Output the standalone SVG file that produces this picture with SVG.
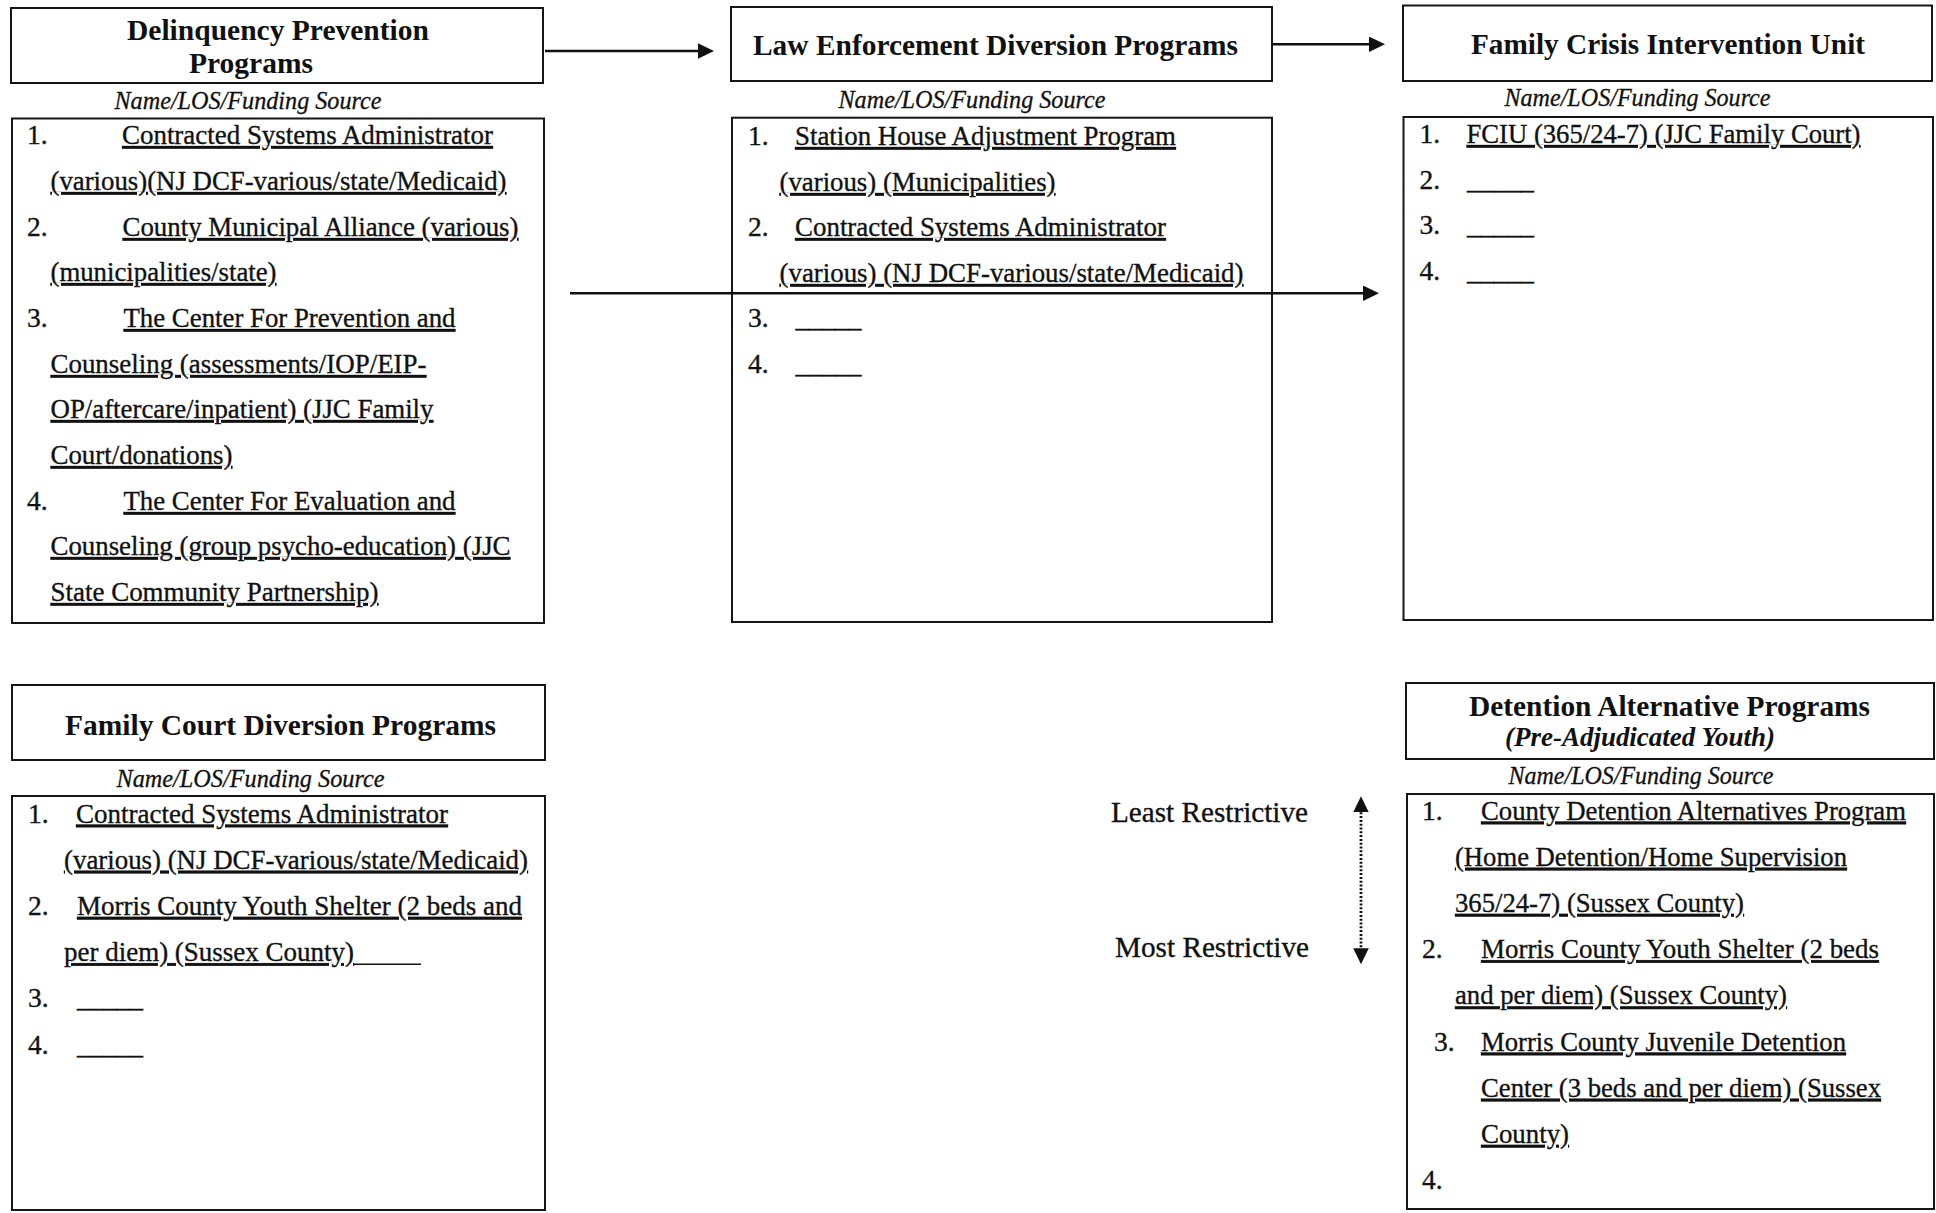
<svg xmlns="http://www.w3.org/2000/svg" width="1936" height="1213" viewBox="0 0 1936 1213">
<style>
  .box { fill: none; stroke: #161616; stroke-width: 2; }
  .hd { font-family: "Liberation Serif", "Times New Roman", serif; font-weight: bold; font-size: 30px; fill: #111; }
  .hdi { font-family: "Liberation Serif", "Times New Roman", serif; font-weight: bold; font-style: italic; font-size: 27px; fill: #111; }
  .sub { font-family: "Liberation Serif", "Times New Roman", serif; font-style: italic; font-size: 24.5px; fill: #111; stroke: #111; stroke-width: 0.3; }
  .it { font-family: "Liberation Serif", "Times New Roman", serif; font-size: 27.5px; fill: #111; stroke: #111; stroke-width: 0.35; text-decoration: underline; }
  .num { font-family: "Liberation Serif", "Times New Roman", serif; font-size: 27.5px; fill: #111; stroke: #111; stroke-width: 0.35; }
  .lbl { font-family: "Liberation Serif", "Times New Roman", serif; font-size: 29px; fill: #111; stroke: #111; stroke-width: 0.35; }
  .conn { stroke: #111; stroke-width: 2.4; fill: none; }
  .dot { stroke: #111; stroke-width: 2.8; fill: none; stroke-dasharray: 2 1.8; }
  .ul { stroke: #111; stroke-width: 1.6; }
</style>
<defs>
  <marker id="ah" markerUnits="userSpaceOnUse" markerWidth="17" markerHeight="17" refX="0" refY="7.8" orient="auto-start-reverse">
    <path d="M0,0 L16,7.8 L0,15.6 Z" fill="#111"/>
  </marker>
</defs>

<g id="delinquency-prevention">
  <rect class="box" x="11" y="8" width="532" height="75"/>
  <text class="hd" x="127" y="40" textLength="302" lengthAdjust="spacingAndGlyphs">Delinquency Prevention</text>
  <text class="hd" x="189" y="73" textLength="124" lengthAdjust="spacingAndGlyphs">Programs</text>
  <text class="sub" x="114.5" y="109" textLength="267" lengthAdjust="spacingAndGlyphs">Name/LOS/Funding Source</text>
  <rect class="box" x="12" y="118.5" width="532" height="504.5"/>
  <text class="num" x="27" y="144">1.</text>
  <text class="it" x="122" y="144" textLength="371" lengthAdjust="spacingAndGlyphs">Contracted Systems Administrator</text>
  <text class="it" x="50.5" y="190" textLength="456" lengthAdjust="spacingAndGlyphs">(various)(NJ DCF-various/state/Medicaid)</text>
  <text class="num" x="27" y="236">2.</text>
  <text class="it" x="122.5" y="236" textLength="396" lengthAdjust="spacingAndGlyphs">County Municipal Alliance (various)</text>
  <text class="it" x="50.5" y="281" textLength="226" lengthAdjust="spacingAndGlyphs">(municipalities/state)</text>
  <text class="num" x="27" y="327">3.</text>
  <text class="it" x="123.5" y="327" textLength="332" lengthAdjust="spacingAndGlyphs">The Center For Prevention and</text>
  <text class="it" x="50.5" y="373" textLength="376" lengthAdjust="spacingAndGlyphs">Counseling (assessments/IOP/EIP-</text>
  <text class="it" x="50.5" y="418" textLength="383" lengthAdjust="spacingAndGlyphs">OP/aftercare/inpatient) (JJC Family</text>
  <text class="it" x="50.5" y="464" textLength="182" lengthAdjust="spacingAndGlyphs">Court/donations)</text>
  <text class="num" x="27" y="510">4.</text>
  <text class="it" x="123.5" y="510" textLength="332" lengthAdjust="spacingAndGlyphs">The Center For Evaluation and</text>
  <text class="it" x="50.5" y="555" textLength="460" lengthAdjust="spacingAndGlyphs">Counseling (group psycho-education) (JJC</text>
  <text class="it" x="50.5" y="601" textLength="328" lengthAdjust="spacingAndGlyphs">State Community Partnership)</text>
</g>

<g id="law-enforcement-diversion">
  <rect class="box" x="731" y="7" width="541" height="74"/>
  <text class="hd" x="753" y="55" textLength="485" lengthAdjust="spacingAndGlyphs">Law Enforcement Diversion Programs</text>
  <text class="sub" x="838.5" y="108" textLength="267" lengthAdjust="spacingAndGlyphs">Name/LOS/Funding Source</text>
  <rect class="box" x="732" y="117.7" width="540" height="504.3"/>
  <text class="num" x="748" y="145">1.</text>
  <text class="it" x="795" y="145" textLength="381" lengthAdjust="spacingAndGlyphs">Station House Adjustment Program</text>
  <text class="it" x="779.5" y="191" textLength="276" lengthAdjust="spacingAndGlyphs">(various) (Municipalities)</text>
  <text class="num" x="748" y="236">2.</text>
  <text class="it" x="795" y="236" textLength="371" lengthAdjust="spacingAndGlyphs">Contracted Systems Administrator</text>
  <text class="it" x="779.5" y="282" textLength="464" lengthAdjust="spacingAndGlyphs">(various) (NJ DCF-various/state/Medicaid)</text>
  <text class="num" x="748" y="327">3.</text>
  <text class="num" x="795.5" y="327" textLength="66" lengthAdjust="spacingAndGlyphs">_____</text>
  <text class="num" x="748" y="373">4.</text>
  <text class="num" x="795.5" y="373" textLength="66" lengthAdjust="spacingAndGlyphs">_____</text>
</g>

<g id="family-crisis-intervention">
  <rect class="box" x="1403" y="5.5" width="529" height="75.5"/>
  <text class="hd" x="1471" y="53.5" textLength="394" lengthAdjust="spacingAndGlyphs">Family Crisis Intervention Unit</text>
  <text class="sub" x="1504.5" y="106" textLength="266" lengthAdjust="spacingAndGlyphs">Name/LOS/Funding Source</text>
  <rect class="box" x="1403.5" y="117" width="529.5" height="503"/>
  <text class="num" x="1419.5" y="143">1.</text>
  <text class="it" x="1466.5" y="143" textLength="394" lengthAdjust="spacingAndGlyphs">FCIU (365/24-7) (JJC Family Court)</text>
  <text class="num" x="1419.5" y="188.5">2.</text>
  <text class="num" x="1467" y="188.5" textLength="67" lengthAdjust="spacingAndGlyphs">_____</text>
  <text class="num" x="1419.5" y="234">3.</text>
  <text class="num" x="1467" y="234" textLength="67" lengthAdjust="spacingAndGlyphs">_____</text>
  <text class="num" x="1419.5" y="279.5">4.</text>
  <text class="num" x="1467" y="279.5" textLength="67" lengthAdjust="spacingAndGlyphs">_____</text>
</g>

<g id="family-court-diversion">
  <rect class="box" x="12" y="685" width="533" height="75"/>
  <text class="hd" x="65" y="735" textLength="431" lengthAdjust="spacingAndGlyphs">Family Court Diversion Programs</text>
  <text class="sub" x="116.5" y="787" textLength="268" lengthAdjust="spacingAndGlyphs">Name/LOS/Funding Source</text>
  <rect class="box" x="12" y="796" width="533" height="414"/>
  <text class="num" x="28" y="822.5">1.</text>
  <text class="it" x="76" y="822.5" textLength="372" lengthAdjust="spacingAndGlyphs">Contracted Systems Administrator</text>
  <text class="it" x="64" y="868.7" textLength="464" lengthAdjust="spacingAndGlyphs">(various) (NJ DCF-various/state/Medicaid)</text>
  <text class="num" x="28" y="914.9">2.</text>
  <text class="it" x="77" y="914.9" textLength="445" lengthAdjust="spacingAndGlyphs">Morris County Youth Shelter (2 beds and</text>
  <text class="it" x="64" y="961.1" textLength="290" lengthAdjust="spacingAndGlyphs">per diem) (Sussex County)</text>
  <line class="ul" x1="353" y1="964.3" x2="421" y2="964.3"/>
  <text class="num" x="28" y="1007.3">3.</text>
  <text class="num" x="77" y="1007.3" textLength="66" lengthAdjust="spacingAndGlyphs">_____</text>
  <text class="num" x="28" y="1053.5">4.</text>
  <text class="num" x="77" y="1053.5" textLength="66" lengthAdjust="spacingAndGlyphs">_____</text>
</g>

<g id="restrictiveness-scale">
  <text class="lbl" x="1111" y="822" textLength="197" lengthAdjust="spacingAndGlyphs">Least Restrictive</text>
  <text class="lbl" x="1115" y="957" textLength="194" lengthAdjust="spacingAndGlyphs">Most Restrictive</text>
</g>

<g id="detention-alternatives">
  <rect class="box" x="1406" y="683" width="528" height="76"/>
  <text class="hd" x="1469" y="716" textLength="401" lengthAdjust="spacingAndGlyphs">Detention Alternative Programs</text>
  <text class="hdi" x="1505" y="746" textLength="270" lengthAdjust="spacingAndGlyphs">(Pre-Adjudicated Youth)</text>
  <text class="sub" x="1508.5" y="784" textLength="265" lengthAdjust="spacingAndGlyphs">Name/LOS/Funding Source</text>
  <rect class="box" x="1407" y="794" width="527" height="415"/>
  <text class="num" x="1422" y="819.5">1.</text>
  <text class="it" x="1481" y="819.5" textLength="425" lengthAdjust="spacingAndGlyphs">County Detention Alternatives Program</text>
  <text class="it" x="1455" y="865.7" textLength="392" lengthAdjust="spacingAndGlyphs">(Home Detention/Home Supervision</text>
  <text class="it" x="1455" y="911.9" textLength="289" lengthAdjust="spacingAndGlyphs">365/24-7) (Sussex County)</text>
  <text class="num" x="1422" y="958.1">2.</text>
  <text class="it" x="1481" y="958.1" textLength="398" lengthAdjust="spacingAndGlyphs">Morris County Youth Shelter (2 beds</text>
  <text class="it" x="1455" y="1004.3" textLength="332" lengthAdjust="spacingAndGlyphs">and per diem) (Sussex County)</text>
  <text class="num" x="1434" y="1050.5">3.</text>
  <text class="it" x="1481" y="1050.5" textLength="365" lengthAdjust="spacingAndGlyphs">Morris County Juvenile Detention</text>
  <text class="it" x="1481" y="1096.7" textLength="400" lengthAdjust="spacingAndGlyphs">Center (3 beds and per diem) (Sussex</text>
  <text class="it" x="1481" y="1142.9" textLength="88" lengthAdjust="spacingAndGlyphs">County)</text>
  <text class="num" x="1422" y="1189.1">4.</text>
</g>

<g id="connectors">
  <line class="conn" x1="545" y1="51" x2="698" y2="51" marker-end="url(#ah)"/>
  <line class="conn" x1="1273" y1="44.3" x2="1369" y2="44.3" marker-end="url(#ah)"/>
  <line class="conn" x1="570" y1="293.3" x2="1363" y2="293.3" marker-end="url(#ah)"/>
  <line class="dot" x1="1361" y1="812.3" x2="1361" y2="948.3" marker-start="url(#ah)" marker-end="url(#ah)"/>
</g>
</svg>
